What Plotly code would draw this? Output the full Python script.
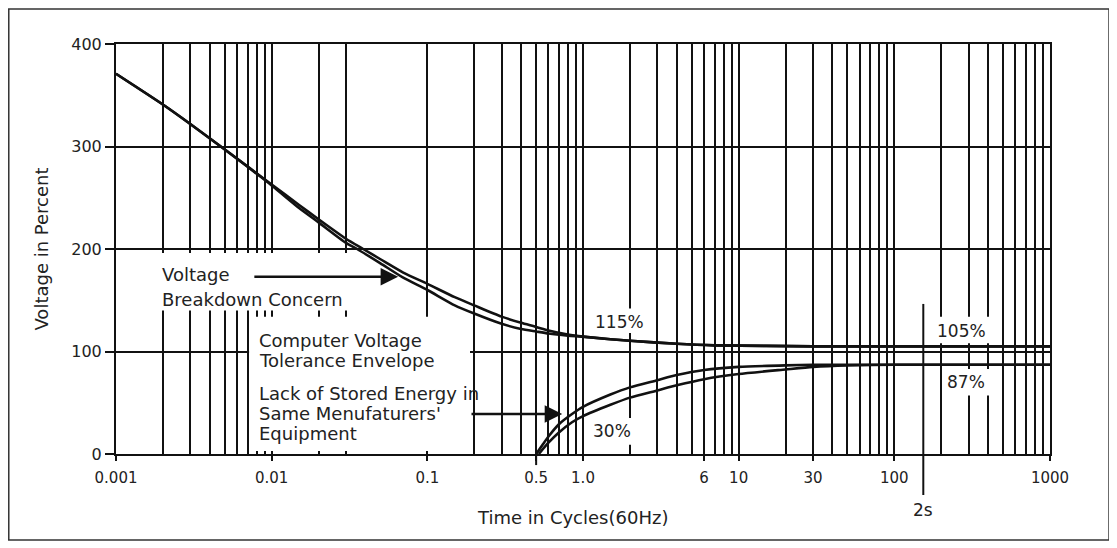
import numpy as np
import plotly.graph_objects as go

# ---------------- data ----------------
# Upper envelope (two nearly coincident lines)
upper_outer_x = [0.001, 0.002, 0.003, 0.005, 0.01, 0.015, 0.02, 0.03, 0.0387, 0.05, 0.07, 0.1, 0.15, 0.2, 0.3, 0.4, 0.5, 0.6, 0.8, 1.0, 1.5, 2.0, 4.0, 7.0, 15.0, 30.0, 100.0, 1000.0]
upper_outer_y = [371, 341, 322, 297, 263, 243, 229, 210, 200, 190, 177, 166, 153, 145, 134, 128, 124, 120.5, 116.5, 114.5, 112, 110.5, 107.5, 106, 105.5, 105, 105, 105]
upper_inner_x = [0.001, 0.002, 0.003, 0.005, 0.01, 0.015, 0.02, 0.03, 0.0354, 0.05, 0.07, 0.1, 0.15, 0.2, 0.3, 0.4, 0.5, 0.6, 0.8, 1.0, 1.5, 2.0, 4.0, 7.0, 15.0, 30.0, 100.0, 1000.0]
upper_inner_y = [371, 341, 322, 297, 262, 240, 226, 206, 200, 186, 172, 160, 145, 137, 127, 122, 119.5, 117.5, 115.5, 114.5, 112, 110.5, 107.5, 106, 105.5, 105, 105, 105]

# Lower envelope (two lines starting at 0.5 cycles)
lower_outer_x = [0.5, 0.55, 0.6, 0.7, 0.85, 1.0, 1.5, 2.0, 3.0, 4.0, 6.0, 10.0, 20.0, 30.0, 100.0, 1000.0]
lower_outer_y = [0, 9, 17, 29, 39, 46, 58, 65, 72, 77, 82, 85, 86.5, 87, 87, 87]
lower_inner_x = [0.52, 0.6, 0.7, 0.85, 1.0, 1.5, 2.0, 3.0, 4.0, 6.0, 10.0, 20.0, 30.0, 50.0, 100.0, 1000.0]
lower_inner_y = [0, 11, 21, 31, 37, 48, 55, 62, 67, 73, 78, 82.5, 85, 86.5, 87, 87]

# axes
x_tick_vals = [0.001, 0.01, 0.1, 0.5, 1, 6, 10, 30, 100, 1000]
x_tick_text = ["0.001", "0.01", "0.1", "0.5", "1.0", "6", "10", "30", "100", "1000"]
grid_decades = [0.001, 0.01, 0.1, 1, 10, 100]
grid_multipliers = [1, 2, 3, 4, 5, 6, 7, 8, 9]
grid_skipped = [0.04, 0.05, 0.06, 0.07, 0.08, 0.09]
y_tick_vals = [0, 100, 200, 300, 400]

two_sec_x = 153.5  # position of the "2s" marker as drawn

# ---------------- build ----------------
def close(a, b):
    return abs(a - b) / b < 1e-6

minor_vals = []
for d in grid_decades:
    for m in grid_multipliers:
        v = round(m * d, 6)
        if any(close(v, t) for t in x_tick_vals):
            continue
        if any(close(v, s) for s in grid_skipped):
            continue
        minor_vals.append(v)

FONT = "DejaVu Sans"
TXT = "#222222"
LINE = "#111111"

fig = go.Figure()
for xs, ys in [(upper_outer_x, upper_outer_y), (upper_inner_x, upper_inner_y),
               (lower_outer_x, lower_outer_y), (lower_inner_x, lower_inner_y)]:
    fig.add_trace(go.Scatter(x=xs, y=ys, mode="lines",
                             line=dict(color=LINE, width=2.6, shape="spline", smoothing=0.6),
                             showlegend=False, hoverinfo="skip"))

# white boxes behind the labels (they interrupt the grid)
boxes = [
    (0.00178, 140, 0.0329, 196),
    (0.00716, 3, 0.188, 134),
    (1.146, 118, 2.55, 142),
    (1.11, 9, 2.26, 35),
    (170, 108, 446, 134),
    (213, 57, 446, 83),
]
for x0, y0, x1, y1 in boxes:
    fig.add_shape(type="rect", xref="x", yref="y", x0=x0, x1=x1, y0=y0, y1=y1,
                  fillcolor="white", line=dict(width=0), layer="between")

# 2s marker line and the longer 0.5 tick
fig.add_shape(type="line", xref="x", yref="paper", x0=two_sec_x, x1=two_sec_x,
              y0=-0.1, y1=0.366, line=dict(color=LINE, width=2), layer="above")
fig.add_shape(type="line", xref="x", yref="paper", x0=0.5, x1=0.5,
              y0=-0.027, y1=0, line=dict(color=LINE, width=2), layer="above")

# outer frame
fig.add_shape(type="rect", xref="paper", yref="paper", x0=-0.1148, x1=1.0632,
              y0=-0.2098, y1=1.0854, line=dict(color="#333333", width=1.5),
              fillcolor="rgba(0,0,0,0)", layer="above")

def lx(v):
    return float(np.log10(v))

text_items = [
    ("Voltage", 0.00192, 175, "left", 18),
    ("Breakdown Concern", 0.00192, 151, "left", 18),
    ("Computer Voltage", 0.00805, 111, "left", 18),
    ("Tolerance Envelope", 0.00805, 91, "left", 18),
    ("Lack of Stored Energy in", 0.00805, 59, "left", 18),
    ("Same Menufaturers'", 0.00805, 40, "left", 18),
    ("Equipment", 0.00805, 20, "left", 18),
    ("115%", 1.71, 129, "center", 17),
    ("30%", 1.54, 22, "center", 17),
    ("105%", 270, 120, "center", 17),
    ("87%", 290, 70, "center", 17),
]
for t, x, y, anc, sz in text_items:
    fig.add_annotation(text=t, x=lx(x), y=y, xref="x", yref="y", showarrow=False,
                       xanchor=anc, yanchor="middle",
                       font=dict(family=FONT, size=sz, color=TXT))

fig.add_annotation(text="2s", x=lx(two_sec_x), y=-0.137, xref="x", yref="paper",
                   showarrow=False, xanchor="center", yanchor="middle",
                   font=dict(family=FONT, size=17, color=TXT))

# arrows
for (tx, ty, hx, hy) in [(0.00757, 173, 0.0649, 173), (0.188, 39, 0.735, 39)]:
    fig.add_annotation(text="", x=lx(hx), y=hy, ax=lx(tx), ay=ty, xref="x", yref="y",
                       axref="x", ayref="y", showarrow=True, arrowhead=2,
                       arrowsize=1.4, arrowwidth=2.5, arrowcolor=LINE, standoff=0)

# x-axis title
fig.add_annotation(text="Time in Cycles(60Hz)", x=0.4885, y=-0.154, xref="paper", yref="paper",
                   showarrow=False, xanchor="center", yanchor="middle",
                   font=dict(family=FONT, size=18, color=TXT))

fig.update_layout(
    width=1109, height=540,
    margin=dict(l=108, r=67, t=36, b=94),
    paper_bgcolor="white", plot_bgcolor="white",
    font=dict(family=FONT, color=TXT),
    xaxis=dict(type="log", range=[-3, 3], tickmode="array", tickvals=x_tick_vals,
               ticktext=x_tick_text, ticks="outside", ticklen=5, tickwidth=2,
               tickcolor=LINE, showgrid=True, gridcolor=LINE, gridwidth=2,
               showline=True, linecolor=LINE, linewidth=2, mirror=True,
               tickfont=dict(family=FONT, size=15, color=TXT), ticklabelstandoff=4,
               minor=dict(tickmode="array", tickvals=minor_vals, showgrid=True,
                          gridcolor=LINE, gridwidth=2, ticks=""),
               zeroline=False),
    yaxis=dict(range=[0, 400], tickmode="array", tickvals=y_tick_vals,
               ticks="outside", ticklen=9, tickwidth=2, tickcolor=LINE,
               showgrid=True, gridcolor=LINE, gridwidth=2,
               showline=True, linecolor=LINE, linewidth=2, mirror=True,
               zeroline=False, tickfont=dict(family=FONT, size=16, color=TXT),
               title=dict(text="Voltage in Percent", standoff=18,
                          font=dict(family=FONT, size=18, color=TXT))),
)

fig.write_html("out.html")
